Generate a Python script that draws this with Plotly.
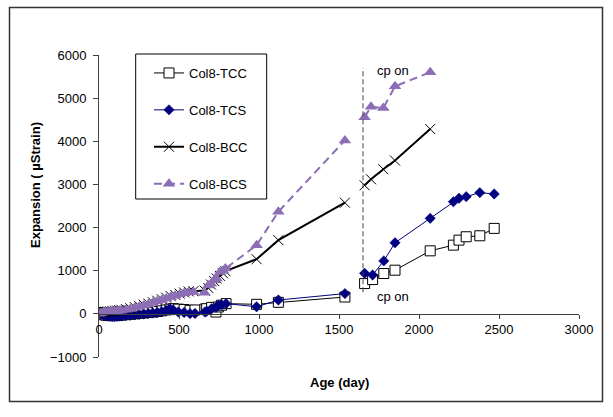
import plotly.graph_objects as go

# Test days and readings for the top (T) specimens, before and after cathodic protection
t_days_pre = [0, 14, 28, 42, 56, 70, 84, 98, 112, 126, 140, 168, 196, 224, 252, 280, 308,
              336, 364, 392, 420, 444, 464, 496, 532, 569, 600, 662, 673, 704, 731, 746,
              766, 794, 985, 1121, 1537]
tcc_pre = [30, 0, -20, -30, -35, -40, -40, -40, -35, -30, -25, -20, -10, 0, 10, 20, 30,
           40, 55, 70, 90, 110, 120, 110, 100, 81, 90, 110, 120, 150, 42, 160,
           200, 237, 221, 267, 390]
tcs_pre = [0, -10, -25, -40, -50, -55, -60, -60, -55, -50, -45, -40, -30, -20, -10, 0, 10,
           20, 30, 50, 80, 120, 90, 42, 30, 5, 10, 42, 60, 120, 150, 198,
           210, 237, 165, 320, 470]

t_days_post = [1660, 1710, 1780, 1850, 2070, 2215, 2250, 2295, 2380, 2470]
tcc_post = [702, 795, 935, 1012, 1461, 1593, 1709, 1787, 1810, 1981]
tcs_post = [940, 900, 1228, 1647, 2214, 2600, 2679, 2717, 2810, 2779]

# Test days and readings for the bottom (B) specimens
b_days_pre = [0, 14, 28, 42, 56, 70, 84, 98, 112, 126, 140, 168, 196, 224, 252, 280, 308,
              336, 364, 392, 420, 448, 476, 504, 532, 560, 590, 660, 683, 700, 720, 735,
              756, 775, 790, 985, 1121, 1537]
bcc_pre = [0, 30, 45, 50, 55, 60, 65, 70, 78, 85, 95, 110, 130, 155, 180, 210, 240,
           270, 305, 340, 375, 410, 440, 470, 495, 520, 525, 540, 600, 680, 760, 820,
           880, 940, 990, 1267, 1709, 2577]
bcs_pre = [0, 20, 35, 40, 45, 50, 55, 60, 65, 70, 80, 95, 115, 140, 165, 195, 225,
           255, 290, 320, 355, 390, 420, 450, 475, 495, 505, 490, 660, 700, 780, 820,
           970, 1000, 1050, 1593, 2367, 4020]

b_days_post = [1660, 1700, 1777, 1850, 2070]
bcc_post = [2980, 3120, 3353, 3553, 4284]
bcs_post = [4560, 4800, 4772, 5274, 5600]

cp_day = 1650
cp_span = [500, 5700]

x_ticks = [0, 500, 1000, 1500, 2000, 2500, 3000]
y_ticks = [-1000, 0, 1000, 2000, 3000, 4000, 5000, 6000]

FONT = "Arial, Liberation Sans, sans-serif"
PURPLE = "#8C6EB4"
NAVY = "#000080"

series = [
    dict(name="Col8-TCC", xs=(t_days_pre, t_days_post), ys=(tcc_pre, tcc_post),
         line=dict(color="black", width=1),
         marker=dict(symbol="square", size=10, color="white",
                     line=dict(color="black", width=1))),
    dict(name="Col8-TCS", xs=(t_days_pre, t_days_post), ys=(tcs_pre, tcs_post),
         line=dict(color=NAVY, width=1),
         marker=dict(symbol="diamond", size=8, color=NAVY,
                     line=dict(color=NAVY, width=0.5))),
    dict(name="Col8-BCC", xs=(b_days_pre, b_days_post), ys=(bcc_pre, bcc_post),
         line=dict(color="black", width=2),
         marker=dict(symbol="x-thin", size=10, color="black",
                     line=dict(color="black", width=1))),
    dict(name="Col8-BCS", xs=(b_days_pre, b_days_post), ys=(bcs_pre, bcs_post),
         line=dict(color=PURPLE, width=2, dash="8px,5px"),
         marker=dict(symbol="triangle-up", size=11, color=PURPLE,
                     line=dict(color=PURPLE, width=0))),
]

fig = go.Figure()
for s in series:
    for i, (xs, ys) in enumerate(zip(s["xs"], s["ys"])):
        fig.add_trace(go.Scatter(
            x=xs, y=ys, mode="lines+markers", name=s["name"],
            legendgroup=s["name"], showlegend=(i == 0),
            line=s["line"], marker=s["marker"],
        ))

# cathodic protection switch-on marker
fig.add_trace(go.Scatter(
    x=[cp_day, cp_day], y=cp_span, mode="lines", showlegend=False,
    line=dict(color="#404040", width=1, dash="5px,3px"), hoverinfo="skip",
))

fig.add_annotation(x=1725, y=5640, text="cp on", showarrow=False, xanchor="left",
                   font=dict(family=FONT, size=13, color="black"))
fig.add_annotation(x=1725, y=400, text="cp on", showarrow=False, xanchor="left",
                   font=dict(family=FONT, size=13, color="black"))

# axis titles
fig.add_annotation(xref="paper", yref="paper", x=0.5, y=-0.085, text="<b>Age (day)</b>",
                   showarrow=False, yanchor="middle",
                   font=dict(family=FONT, size=13, color="black"))
fig.add_annotation(xref="paper", yref="paper", x=-0.131, y=0.57,
                   text="<b>Expansion ( µStrain)</b>", textangle=-90,
                   showarrow=False, xanchor="center",
                   font=dict(family=FONT, size=13, color="black"))

# legend frame and outer chart frame
fig.add_shape(type="rect", xref="paper", yref="paper",
              x0=(135.7 - 99) / 480, x1=(266.7 - 99) / 480,
              y0=(357 - 199) / 302, y1=(357 - 54) / 302,
              line=dict(color="black", width=1), fillcolor="rgba(0,0,0,0)", layer="below")
fig.add_shape(type="rect", xref="paper", yref="paper",
              x0=(9.5 - 99) / 480, x1=(602.5 - 99) / 480,
              y0=(357 - 401.5) / 302, y1=(357 - 7.5) / 302,
              line=dict(color="#333333", width=1.5), fillcolor="rgba(0,0,0,0)")

fig.update_layout(
    width=613, height=417,
    margin=dict(l=99, r=34, t=55, b=60),
    paper_bgcolor="white", plot_bgcolor="white",
    font=dict(family=FONT, size=13, color="black"),
    showlegend=True,
    legend=dict(x=(149 - 99) / 480, y=(357 - 58) / 302, xanchor="left", yanchor="top",
                bgcolor="rgba(0,0,0,0)", borderwidth=0, tracegroupgap=17,
                font=dict(family=FONT, size=13, color="black")),
    xaxis=dict(range=[0, 3000], tickvals=x_ticks, showgrid=False, zeroline=False,
               showline=True, linecolor="#404040", linewidth=1,
               ticks="outside", ticklen=4, tickcolor="#404040",
               anchor="free", position=1 / 7, tickfont=dict(size=13)),
    yaxis=dict(range=[-1000, 6000], tickvals=y_ticks, showgrid=False, zeroline=False,
               showline=True, linecolor="#404040", linewidth=1,
               ticks="outside", ticklen=5, tickcolor="#404040",
               ticklabelstandoff=4, tickfont=dict(size=13)),
)

fig.write_html("out.html")
